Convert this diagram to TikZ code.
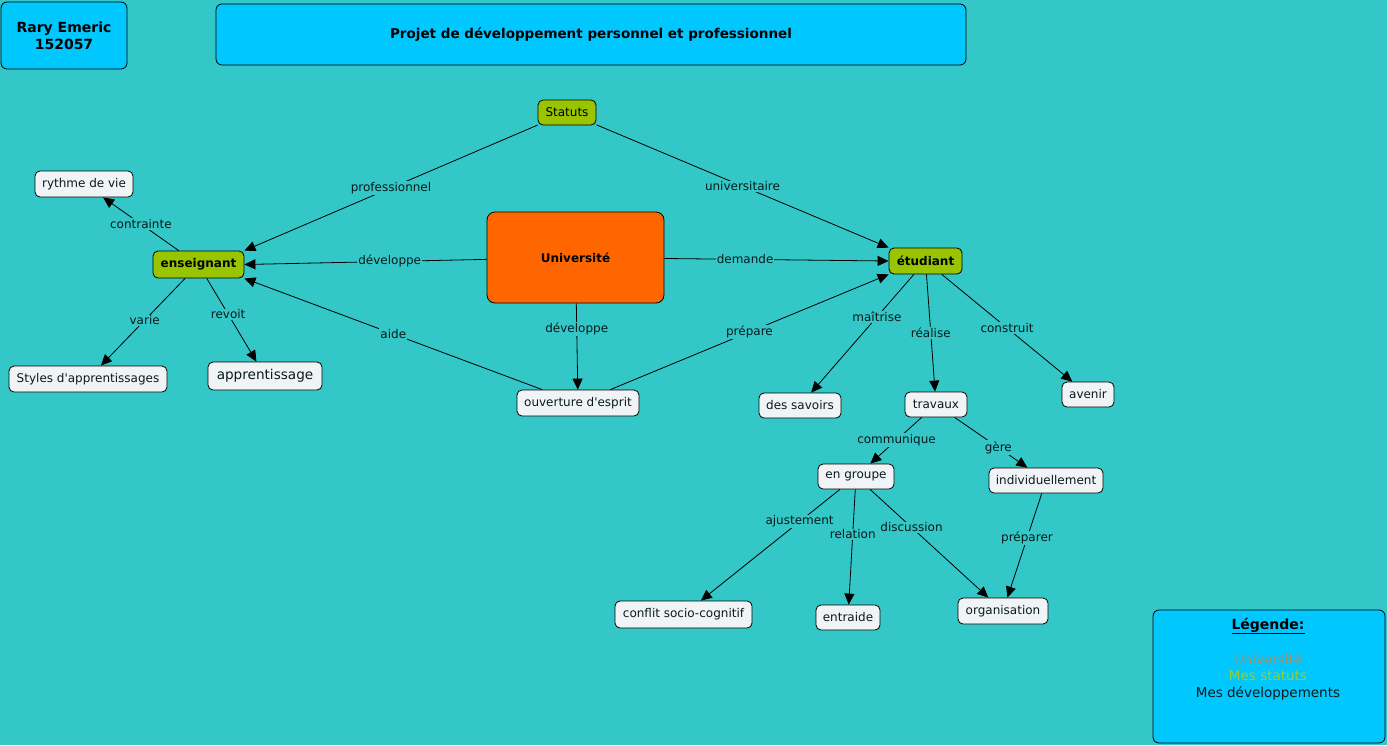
\documentclass[tikz,border=0pt]{standalone}
\usepackage{fontspec}
\setmainfont{DejaVu Sans}
\usetikzlibrary{arrows.meta}
\definecolor{bgc}{HTML}{33C7C7}
\definecolor{boxblue}{HTML}{00C8FF}
\definecolor{stgreen}{HTML}{99C400}
\definecolor{univor}{HTML}{FF6600}
\definecolor{nodewhite}{HTML}{F0F4F7}
\definecolor{legbrown}{HTML}{B8875A}
\definecolor{leggreen}{HTML}{99CC33}
\definecolor{txt}{HTML}{0A1A1A}
\tikzset{
  concept/.style={draw=black, rounded corners=5pt, fill=nodewhite, font=\fontsize{12}{14}\selectfont, text=txt, inner sep=0pt, line width=0.8pt},
  statut/.style={draw=black, rounded corners=5pt, fill=stgreen, font=\fontsize{12}{14}\selectfont, text=black, inner sep=0pt, line width=0.8pt},
  headbox/.style={draw=black, rounded corners=6pt, fill=boxblue, inner sep=0pt, line width=0.8pt},
  link/.style={draw=black, line width=0.8pt, -{Triangle[length=11pt,width=10pt]}},
  lbl/.style={fill=bgc, inner sep=1pt, font=\fontsize{12}{14}\selectfont, text=txt}
}
\begin{document}
\begin{tikzpicture}[x=1pt,y=-1pt]
\fill[bgc] (0,0) rectangle (1387,745);
\useasboundingbox (0,0) rectangle (1387,745);
% header boxes
\node[headbox, minimum width=126pt, minimum height=67pt, align=center, font=\bfseries\fontsize{14}{17}\selectfont] (author) at (64,35.5) {Rary Emeric\\152057};
\node[headbox, minimum width=750pt, minimum height=61pt, font=\bfseries\fontsize{13.5}{16}\selectfont] (title) at (591,34.5) {Projet de développement personnel et professionnel};
% concept nodes
\node[statut, minimum width=58pt, minimum height=25pt] (statuts) at (567,112.5) {Statuts};
\node[concept, minimum width=98pt, minimum height=26pt] (rythme) at (84,184) {rythme de vie};
\node[statut, minimum width=91pt, minimum height=27pt, font=\bfseries\fontsize{12}{14}\selectfont] (ens) at (198.5,264.5) {enseignant};
\node[draw=black, rounded corners=8pt, fill=univor, minimum width=177pt, minimum height=91pt, inner sep=0pt, line width=0.8pt, font=\bfseries\fontsize{12}{14}\selectfont] (univ) at (575.5,257.5) {Université};
\node[statut, minimum width=73pt, minimum height=26pt, font=\bfseries\fontsize{12}{14}\selectfont] (etu) at (925.5,261) {étudiant};
\node[concept, minimum width=158pt, minimum height=26pt] (styles) at (88,379) {Styles d\textquotesingle apprentissages};
\node[concept, minimum width=114pt, minimum height=28pt, font=\fontsize{13.6}{16}\selectfont] (appr) at (265,376) {apprentissage};
\node[concept, minimum width=122pt, minimum height=26pt] (ouv) at (578,403) {ouverture d\textquotesingle esprit};
\node[concept, minimum width=82pt, minimum height=25pt] (sav) at (800,405.5) {des savoirs};
\node[concept, minimum width=62pt, minimum height=25pt] (trav) at (936,404.5) {travaux};
\node[concept, minimum width=52pt, minimum height=25pt] (aven) at (1088,394.5) {avenir};
\node[concept, minimum width=76pt, minimum height=25pt] (grp) at (856,476.5) {en groupe};
\node[concept, minimum width=114pt, minimum height=25pt] (indiv) at (1046,480.5) {individuellement};
\node[concept, minimum width=137pt, minimum height=27pt] (conf) at (683.5,614.5) {conflit socio-cognitif};
\node[concept, minimum width=64pt, minimum height=25pt] (entr) at (848,617.5) {entraide};
\node[concept, minimum width=90pt, minimum height=26pt] (orga) at (1003,611) {organisation};
% legend
\node[headbox, minimum width=232pt, minimum height=133pt] (leg) at (1269,676.5) {};
\node[font=\bfseries\fontsize{14}{16}\selectfont, inner sep=0pt] (legt) at (1268,626) {\underline{Légende:}};
\node[font=\fontsize{13.5}{16}\selectfont, text=legbrown, inner sep=0pt] (leg1) at (1268,659) {Université};
\node[font=\fontsize{13.5}{16}\selectfont, text=leggreen, inner sep=0pt] (leg2) at (1268,676) {Mes statuts};
\node[font=\fontsize{13.5}{16}\selectfont, text=txt, inner sep=0pt] (leg3) at (1268,693) {Mes développements};
% links
\draw[link] (statuts) -- node[lbl, pos=0.5] {professionnel} (ens.north east);
\draw[link] (statuts) -- node[lbl, pos=0.5] {universitaire} (etu.north west);
\draw[link] (ens) -- node[lbl, pos=0.5] {contrainte} (rythme);
\draw[link] (univ) -- node[lbl, pos=0.4] {développe} (ens.east);
\draw[link] (ouv) -- node[lbl, pos=0.5] {aide} (ens.south east);
\draw[link] (univ) -- node[lbl, pos=0.36] {demande} (etu.west);
\draw[link] (univ) -- node[lbl, pos=0.3] {développe} (ouv);
\draw[link] (ouv) -- node[lbl, pos=0.5] {prépare} (etu.south west);
\draw[link] (ens) -- node[lbl, pos=0.48] {varie} (styles);
\draw[link] (ens) -- node[lbl, pos=0.43] {revoit} (appr);
\draw[link] (etu) -- node[lbl, pos=0.36] {maîtrise} (sav);
\draw[link] (etu) -- node[lbl, pos=0.5] {réalise} (trav);
\draw[link] (etu) -- node[lbl, pos=0.5] {construit} (aven);
\draw[link] (trav) -- node[lbl, pos=0.49] {communique} (grp);
\draw[link] (trav) -- node[lbl, pos=0.6] {gère} (indiv);
\draw[link] (grp) -- node[lbl, pos=0.29] {ajustement} (conf);
\draw[link] (grp) -- node[lbl, pos=0.39] {relation} (entr);
\draw[link] (grp) -- node[lbl, pos=0.35] {discussion} (orga);
\draw[link] (indiv) -- node[lbl, pos=0.43] {préparer} (orga);
\end{tikzpicture}
\end{document}
